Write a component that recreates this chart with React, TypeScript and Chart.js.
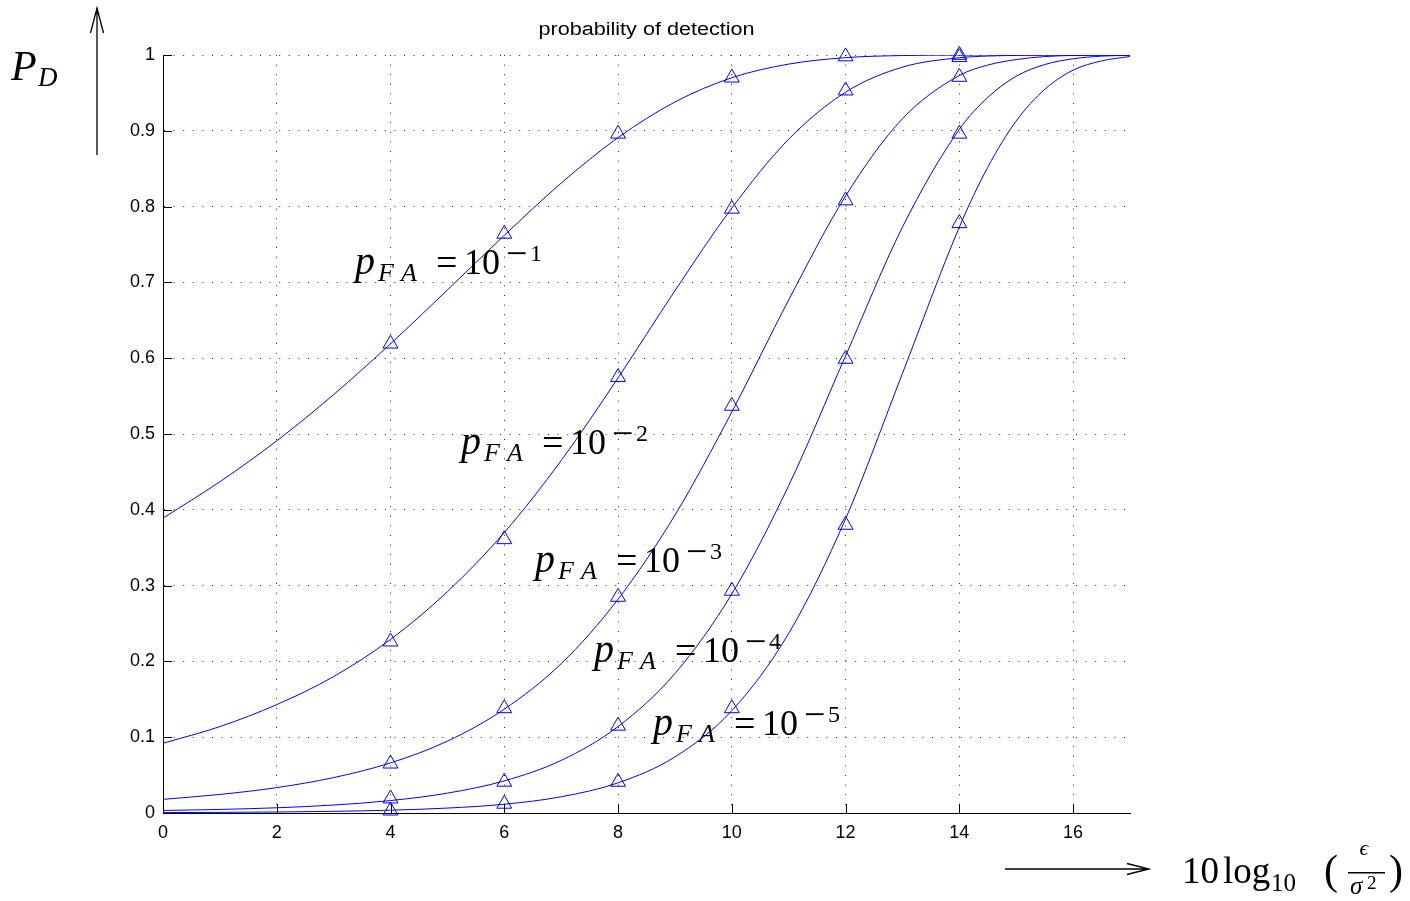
import React, { useEffect, useRef } from "react";
import { Chart, registerables } from "chart.js";

Chart.register(...registerables);

// SNR in dB: 10 log10(eps / sigma^2)
const snrDb = [0, 1, 2, 3, 4, 5, 6, 7, 8, 9, 10, 11, 12, 13, 14, 14.5, 15, 15.5, 16, 16.5, 17];

// theoretical probability of detection, one series per false-alarm probability
const pdFa1 = [0.389, 0.437, 0.491, 0.552, 0.619, 0.690, 0.762, 0.831, 0.891, 0.938, 0.970, 0.988, 0.9965, 0.9993, 0.9999, 1.0, 1.0, 1.0, 1.0, 1.0, 1.0];
const pdFa2 = [0.092, 0.114, 0.143, 0.180, 0.229, 0.292, 0.370, 0.465, 0.574, 0.689, 0.798, 0.889, 0.951, 0.984, 0.9964, 0.9986, 0.9995, 0.9999, 1.0, 1.0, 1.0];
const pdFa3 = [0.018, 0.0245, 0.0335, 0.0467, 0.0661, 0.0948, 0.137, 0.197, 0.282, 0.393, 0.529, 0.677, 0.814, 0.916, 0.973, 0.9867, 0.994, 0.9979, 0.9994, 0.9998, 1.0];
const pdFa4 = [0.0033, 0.0047, 0.0069, 0.0105, 0.0164, 0.0262, 0.0424, 0.0694, 0.114, 0.184, 0.289, 0.432, 0.603, 0.773, 0.902, 0.944, 0.972, 0.9874, 0.995, 0.9985, 0.9996];
const pdFa5 = [0.00055, 0.00084, 0.0013, 0.0022, 0.0037, 0.0065, 0.0116, 0.0214, 0.0398, 0.074, 0.135, 0.237, 0.388, 0.580, 0.773, 0.852, 0.913, 0.9546, 0.980, 0.9922, 0.998];

// simulated (triangle marker) values at markerDb
const markerDb = [4, 6, 8, 10, 12, 14];
const mkFa1 = [0.619, 0.764, 0.896, 0.970, 0.998, 1.0];
const mkFa2 = [0.226, 0.361, 0.575, 0.797, 0.953, 0.997];
const mkFa3 = [0.065, 0.138, 0.285, 0.537, 0.808, 0.971];
const mkFa4 = [0.019, 0.041, 0.115, 0.293, 0.599, 0.896];
const mkFa5 = [0.003, 0.012, 0.041, 0.138, 0.380, 0.778];

const curveList = [pdFa1, pdFa2, pdFa3, pdFa4, pdFa5];
const markerList = [mkFa1, mkFa2, mkFa3, mkFa4, mkFa5];
const faExponents = ["1", "2", "3", "4", "5"];

const xTickValues = [0, 2, 4, 6, 8, 10, 12, 14, 16];
const xTickLabels = ["0", "2", "4", "6", "8", "10", "12", "14", "16"];
const yTickValues = [0, 0.1, 0.2, 0.3, 0.4, 0.5, 0.6, 0.7, 0.8, 0.9, 1];
const yTickLabels = ["0", "0.1", "0.2", "0.3", "0.4", "0.5", "0.6", "0.7", "0.8", "0.9", "1"];

const chartTitle = "probability of detection";

const BLUE = "#0000ff";
const SERIF = '"Liberation Serif", "DejaVu Serif", serif';
const SANS = '"Liberation Sans", Arial, Helvetica, sans-serif';

// pixel anchors (left of "p", baseline) for the p_FA labels
const labelAnchors = [
  [358, 274],
  [464, 454],
  [538, 572],
  [597, 662],
  [656, 735],
];

function drawPfa(ctx: CanvasRenderingContext2D, x: number, y: number, exp: string) {
  ctx.textAlign = "left";
  ctx.textBaseline = "alphabetic";
  ctx.fillStyle = "#000";
  ctx.font = `italic 40px ${SERIF}`;
  ctx.fillText("p", x - 3, y);
  ctx.font = `italic 26px ${SERIF}`;
  ctx.fillText("F", x + 20, y + 7);
  ctx.fillText("A", x + 43, y + 7);
  ctx.font = `38px ${SERIF}`;
  ctx.fillText("=", x + 78, y + 1);
  ctx.font = `36px ${SERIF}`;
  ctx.fillText("10", x + 106, y);
  ctx.font = `38px ${SERIF}`;
  ctx.fillText("\u2212", x + 148, y - 8.5);
  ctx.font = `24px ${SERIF}`;
  ctx.fillText(exp, x + 172, y - 13);
}

const overlayPlugin = {
  id: "overlay",
  afterDraw(chart: any) {
    const ctx: CanvasRenderingContext2D = chart.ctx;
    const xs = chart.scales.x;
    const ys = chart.scales.y;
    const area = chart.chartArea;
    ctx.save();

    // inward tick marks
    ctx.strokeStyle = "#000";
    ctx.lineWidth = 1;
    ctx.beginPath();
    for (const v of xTickValues) {
      const px = Math.round(xs.getPixelForValue(v)) + 0.5;
      ctx.moveTo(px, area.bottom);
      ctx.lineTo(px, area.bottom - 9);
    }
    for (const v of yTickValues) {
      const py = Math.round(ys.getPixelForValue(v)) + 0.5;
      ctx.moveTo(area.left, py);
      ctx.lineTo(area.left + 9, py);
    }
    ctx.stroke();

    // title (horizontally stretched like the reference)
    ctx.fillStyle = "#000";
    ctx.font = `18px ${SANS}`;
    ctx.textAlign = "center";
    ctx.textBaseline = "middle";
    ctx.save();
    ctx.translate((area.left + area.right) / 2, 30);
    ctx.scale(1.2, 1);
    ctx.fillText(chartTitle, 0, 0);
    ctx.restore();

    // p_FA labels
    labelAnchors.forEach((a, i) => drawPfa(ctx, a[0], a[1], faExponents[i]));

    // y-axis label P_D with arrow
    ctx.textAlign = "left";
    ctx.textBaseline = "alphabetic";
    ctx.font = `italic 42px ${SERIF}`;
    ctx.fillText("P", 11, 80);
    ctx.font = `italic 27px ${SERIF}`;
    ctx.fillText("D", 38, 86);

    ctx.strokeStyle = "#000";
    ctx.lineWidth = 1.3;
    ctx.beginPath();
    ctx.moveTo(97, 155);
    ctx.lineTo(97, 8);
    ctx.moveTo(90.5, 33);
    ctx.lineTo(97, 8);
    ctx.lineTo(103.5, 33);
    ctx.stroke();

    // x-axis arrow
    ctx.beginPath();
    ctx.moveTo(1005, 869);
    ctx.lineTo(1149, 869);
    ctx.moveTo(1127, 863.5);
    ctx.lineTo(1149, 869);
    ctx.lineTo(1127, 874.5);
    ctx.stroke();

    // x-axis label: 10 log10 (eps / sigma^2)
    ctx.font = `37px ${SERIF}`;
    ctx.fillText("10", 1182, 883);
    ctx.fillText("log", 1223, 883);
    ctx.font = `25px ${SERIF}`;
    ctx.fillText("10", 1271, 891);
    ctx.font = `42px ${SERIF}`;
    ctx.fillText("(", 1324, 884);
    ctx.fillText(")", 1389, 884);
    ctx.textAlign = "center";
    ctx.font = `italic 22px ${SERIF}`;
    ctx.fillText("\u03F5", 1364, 855);
    ctx.fillRect(1348, 872, 37, 1.5);
    ctx.textAlign = "left";
    ctx.font = `italic 25px ${SERIF}`;
    ctx.fillText("\u03C3", 1350, 894);
    ctx.font = `19px ${SERIF}`;
    ctx.fillText("2", 1367, 889);

    ctx.restore();
  },
};

export default function App() {
  const canvasRef = useRef<HTMLCanvasElement | null>(null);

  useEffect(() => {
    const canvas = canvasRef.current;
    if (!canvas) return;

    const curveSets = curveList.map((s) => ({
      data: snrDb.map((x, i) => ({ x, y: s[i] })),
      borderColor: BLUE,
      borderWidth: 1,
      pointRadius: 0,
      fill: false,
      cubicInterpolationMode: "monotone" as const,
      order: 2,
    }));

    const markerSets = markerList.map((m) => ({
      data: markerDb.map((x, i) => ({ x, y: m[i] })),
      showLine: false,
      borderColor: BLUE,
      backgroundColor: "rgba(0,0,0,0)",
      pointStyle: "triangle" as const,
      pointRadius: 8.6,
      pointBorderWidth: 1,
      pointBorderColor: BLUE,
      pointBackgroundColor: "rgba(0,0,0,0)",
      clip: false as any,
      order: 1,
    }));

    const chart = new Chart(canvas, {
      type: "line",
      data: { datasets: [...curveSets, ...markerSets] as any },
      options: {
        responsive: false,
        animation: false,
        devicePixelRatio: 1,
        layout: { padding: { left: 0, top: 55, right: 280, bottom: 0 } },
        plugins: {
          legend: { display: false },
          tooltip: { enabled: false },
          title: { display: false },
        },
        events: [],
        scales: {
          x: {
            type: "linear",
            min: 0,
            max: 17,
            afterBuildTicks: (scale: any) => {
              scale.ticks = xTickValues.map((v) => ({ value: v }));
            },
            afterFit: (scale: any) => {
              scale.height = 88;
            },
            ticks: {
              color: "#000",
              font: { family: SANS, size: 18 },
              padding: 9,
              maxRotation: 0,
              callback: (v: any) => {
                const i = xTickValues.indexOf(Number(v));
                return i >= 0 ? xTickLabels[i] : "";
              },
            },
            grid: {
              color: "rgba(0,0,0,0.85)",
              lineWidth: 1,
              drawTicks: false,
            },
            border: { display: true, color: "#000", width: 1, dash: [1, 8.6] },
          },
          y: {
            type: "linear",
            min: 0,
            max: 1,
            afterBuildTicks: (scale: any) => {
              scale.ticks = yTickValues.map((v) => ({ value: v }));
            },
            afterFit: (scale: any) => {
              scale.width = 163;
            },
            ticks: {
              color: "#000",
              font: { family: SANS, size: 18 },
              padding: 8,
              callback: (v: any) => {
                const i = yTickValues.findIndex((t) => Math.abs(t - Number(v)) < 1e-9);
                return i >= 0 ? yTickLabels[i] : "";
              },
            },
            grid: {
              color: "rgba(0,0,0,0.85)",
              lineWidth: 1,
              drawTicks: false,
            },
            border: { display: true, color: "#000", width: 1, dash: [1, 8.6] },
          },
        },
      },
      plugins: [overlayPlugin],
    });

    return () => chart.destroy();
  }, []);

  return (
    <div style={{ position: "fixed", left: 0, top: 0, width: 1410, height: 901, background: "#fff" }}>
      <canvas ref={canvasRef} width={1410} height={901} style={{ width: 1410, height: 901, display: "block" }} />
    </div>
  );
}
